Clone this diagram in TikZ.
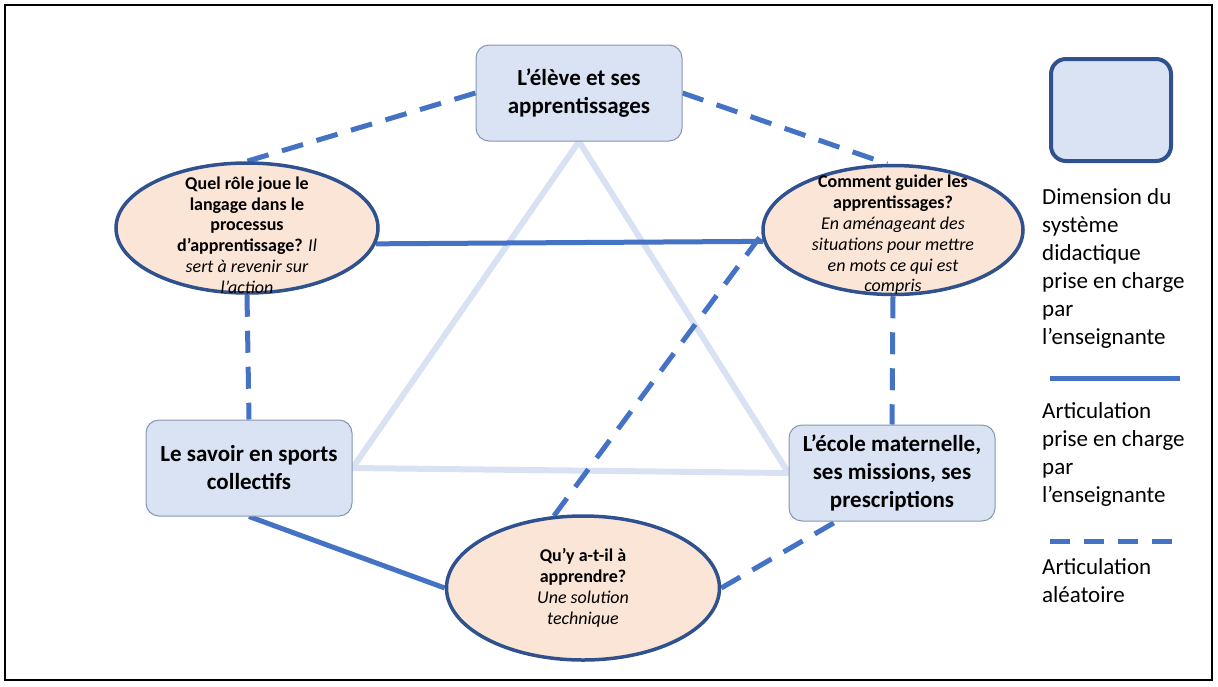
\documentclass[tikz,border=0pt]{standalone}
\usepackage{fontspec}
\setmainfont{Carlito}
\usetikzlibrary{calc, positioning, shapes.geometric, backgrounds}
\definecolor{boxfill}{HTML}{DAE3F3}
\definecolor{boxline}{HTML}{8497B0}
\definecolor{ovalfill}{HTML}{FBE5D6}
\definecolor{ovalline}{HTML}{2F528F}
\definecolor{linkblue}{HTML}{4472C4}
\definecolor{trifill}{HTML}{D9E2F3}

\begin{document}
\begin{tikzpicture}[x=1pt, y=-1pt,
    dimbox/.style={draw=boxline, line width=1pt, fill=boxfill, rounded corners=13pt, minimum width=206pt, minimum height=96pt, align=center, font=\fontsize{23}{28}\selectfont\bfseries},
    quest/.style={draw=ovalline, line width=3.5pt, fill=ovalfill, ellipse, inner sep=0pt},
    qtext/.style={align=center, inner sep=0pt, font=\fontsize{18}{20.8}\selectfont},
    fixed/.style={linkblue, line width=5pt},
    loose/.style={linkblue, line width=5pt, dash pattern=on 22pt off 14pt},
    tri/.style={trifill, line width=6pt, line join=round},
    legtext/.style={anchor=north west, inner sep=0pt, align=left, font=\fontsize{23}{28}\selectfont}]

        \useasboundingbox (0,0) rectangle (1218,686);
        \draw[line width=1.5pt] (5,5) rectangle (1212,680);

        % dimensions du systeme
        \node[dimbox] (eleve) at (579,93) {L’élève et ses\\apprentissages};
        \node[dimbox] (savoir) at (249,468) {Le savoir en sports\\collectifs};
        \node[dimbox] (ecole) at (892,473) {L’école maternelle,\\ses missions, ses\\prescriptions};

        % questions
        \node[quest, minimum width=262pt, minimum height=130pt,
            label={[qtext, yshift=-7pt]center:\textbf{Quel rôle joue le}\\\textbf{langage dans le}\\\textbf{processus}\\\textbf{d’apprentissage?} \textit{Il}\\\textit{sert à revenir sur}\\\textit{l’action}}] (langage) at (247,228) {};
        \node[quest, minimum width=260pt, minimum height=129pt,
            label={[qtext, yshift=-5pt]center:\textbf{Comment guider les}\\\textbf{apprentissages?}\\\textit{En aménageant des}\\\textit{situations pour mettre}\\\textit{en mots ce qui est}\\\textit{compris}}] (guider) at (893,230) {};
        \node[quest, minimum width=273pt, minimum height=144pt,
            label={[qtext]center:\textbf{Qu’y a-t-il à}\\\textbf{apprendre?}\\\textit{Une solution}\\\textit{technique}}] (apprendre) at (583,588) {};

        \begin{scope}[on background layer]
            \draw[tri] (eleve.south) -- (savoir.east) -- (ecole.west) -- cycle;
            \draw[loose] (eleve.west) -- (langage.north);
            \draw[loose] (eleve.east) -- (guider.95);
            \draw[fixed] (langage.-7) -- (guider.185);
            \draw[loose] (langage.south) -- (savoir.north);
            \draw[loose] (guider.south) -- (ecole.north);
            \draw[fixed] (savoir.south) -- (apprendre.west);
            \draw[loose] (apprendre.east) -- (ecole.-139);
            \draw[loose] (apprendre.112) -- (guider.182);
        \end{scope}

        % legende
        \node[draw=ovalline, line width=4pt, fill=boxfill, rounded corners=15pt, minimum width=120pt, minimum height=102pt] (legbox) at (1111,110) {};
        \node[legtext] (legdim) at (1042,188) {Dimension du\\système\\didactique\\prise en charge\\par\\l’enseignante};
        \coordinate (fixa) at (1050,378);
        \coordinate (fixb) at (1180,378);
        \draw[fixed] (fixa) -- (fixb);
        \node[legtext] (legfix) at (1042,402) {Articulation\\prise en charge\\par\\l’enseignante};
        \coordinate (loosea) at (1050,541);
        \coordinate (looseb) at (1172,541);
        \draw[fixed, dash pattern=on 20pt off 14pt] (loosea) -- (looseb);
        \node[legtext] (legloose) at (1042,558) {Articulation\\aléatoire};
    \end{tikzpicture}
\end{document}
